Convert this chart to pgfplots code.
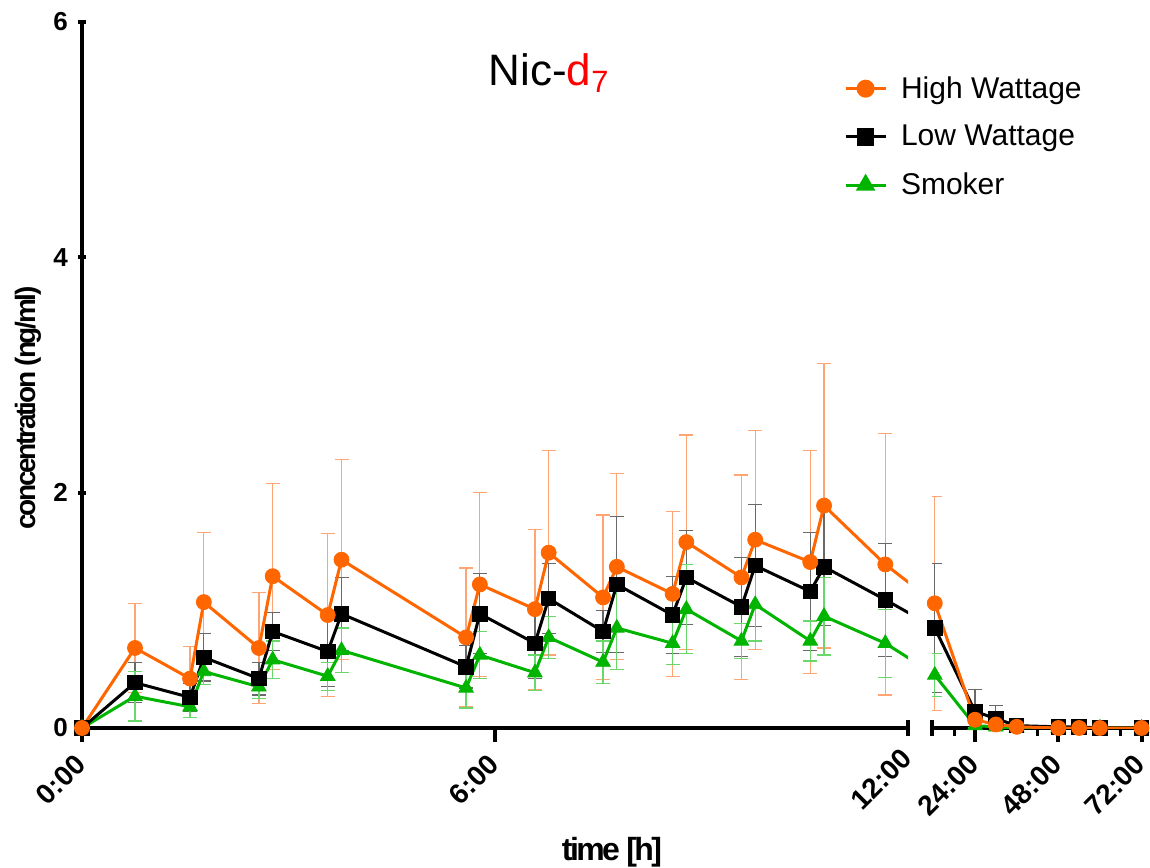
\documentclass[border=0pt]{standalone}
\usepackage{fontspec}
\setmainfont{Liberation Sans}
\newfontfamily\condbold[LetterSpace=-8]{Liberation Sans Bold}
\usepackage{pgfplots}
\usepackage{pgfplotstable}
\pgfplotsset{compat=1.18}
\definecolor{hwc}{RGB}{255,102,0}
\definecolor{hwe}{RGB}{255,165,115}
\definecolor{lwc}{RGB}{0,0,0}
\definecolor{lwe}{RGB}{105,105,105}
\definecolor{smc}{RGB}{0,180,0}
\definecolor{sme}{RGB}{105,215,105}

\pgfplotstableread{
t hw hwe lw lwe sm sme
0 0 0 0 0 0 0
0.77 0.68 0.38 0.385 0.17 0.27 0.21
1.57 0.42 0.27 0.26 0.12 0.18 0.09
1.77 1.07 0.59 0.60 0.20 0.48 0.11
2.57 0.68 0.47 0.42 0.14 0.35 0.10
2.77 1.29 0.79 0.82 0.16 0.58 0.16
3.57 0.96 0.69 0.65 0.30 0.44 0.12
3.77 1.43 0.85 0.97 0.31 0.66 0.19
5.58 0.77 0.59 0.52 0.18 0.34 0.17
5.78 1.22 0.78 0.97 0.34 0.62 0.20
6.58 1.01 0.68 0.72 0.30 0.47 0.15
6.78 1.49 0.87 1.10 0.30 0.77 0.18
7.57 1.11 0.70 0.82 0.18 0.56 0.18
7.77 1.37 0.79 1.22 0.58 0.85 0.35
8.58 1.14 0.70 0.96 0.33 0.72 0.18
8.78 1.58 0.91 1.28 0.40 1.01 0.38
9.58 1.28 0.87 1.03 0.42 0.74 0.15
9.78 1.60 0.93 1.38 0.52 1.05 0.31
10.58 1.41 0.95 1.16 0.50 0.74 0.17
10.78 1.89 1.21 1.37 0.50 0.95 0.33
11.67 1.39 1.11 1.09 0.48 0.72 0.29
12.4 1.06 0.91 0.85 0.55 0.45 0.18
24 0.07 0.03 0.14 0.19 0.02 0.02
30 0.03 0.02 0.08 0.11 0.01 0.01
36 0.01 0.01 0.02 0.02 0 0
48 0 0 0.01 0.01 0 0
54 0 0 0.01 0.01 0 0
60 0 0 0 0 0 0
72 0 0 0 0 0 0
}\datatable

\pgfplotsset{
  ebar/.style={draw=none, mark=none, forget plot,
    error bars/y dir=both, error bars/y explicit,
    error bars/error bar style={draw=#1, line width=0.6pt},
    error bars/error mark options={rotate=90, draw=#1, mark size=3.5pt, line width=0.6pt}},
  sline/.style={draw=#1, line width=1.5pt, mark=none, forget plot},
  hwmark/.style={only marks, mark=*, mark size=3.75pt, color=hwc, forget plot},
  lwmark/.style={only marks, mark=square*, mark size=3.6pt, color=lwc, forget plot},
  smmark/.style={only marks, mark=triangle*, mark size=4.2pt, color=smc, forget plot},
  base/.style={
    scale only axis, height=353pt, ymin=0, ymax=6,
    clip mode=individual,
    axis x line=bottom,
    tick align=outside,
    major tick length=7pt,
    minor tick length=4pt,
    every tick/.style={black, line width=2pt},
    minor tick style={line width=1.5pt},
    tick label style={font=\fontsize{13}{15}\selectfont\bfseries},
    xticklabel style={rotate=45, anchor=east, inner sep=1pt, font=\fontsize{14}{16}\selectfont\bfseries},
    xticklabel shift=8pt,
    extra x tick style={tick align=center, major tick length=8pt},
  },
}

\begin{document}
\begin{tikzpicture}
\path[use as bounding box] (0,0) rectangle (575pt,433.5pt);
% left segment
\begin{axis}[base,
  at={(41pt,69.5pt)}, anchor=south west, width=413pt,
  xmin=0, xmax=12,
  axis y line=left,
  axis line style={-, line width=2pt},
  xtick={0,6}, xticklabels={0:00,6:00},
  extra x ticks={12}, extra x tick labels={12:00},
  ytick={0,2,4,6}, yticklabels={0,2,4,6},
  ytick style={/pgfplots/major tick length=4pt},
  legend style={at={(0.915,0.935)}, anchor=north west, draw=none, fill=none,
    font=\fontsize{15}{17}\selectfont, row sep=8pt,
    /tikz/every even column/.append style={column sep=4pt}},
  legend cell align=left,
  legend image code/.code={\draw[mark repeat=2,mark phase=2] plot coordinates {(0cm,0cm) (0.35cm,0cm) (0.7cm,0cm)};},
]
\addlegendimage{hwc, line width=1.5pt, mark=*, mark size=3.75pt}
\addlegendentry{\hspace{5pt}High Wattage}
\addlegendimage{lwc, line width=1.5pt, mark=square*, mark size=3.6pt}
\addlegendentry{\hspace{5pt}Low Wattage}
\addlegendimage{smc, line width=1.5pt, mark=triangle*, mark size=4.2pt}
\addlegendentry{\hspace{5pt}Smoker}
\addplot[restrict x to domain=-1:12, ebar=hwe] table[x=t, y=hw, y error=hwe] {\datatable};
\addplot[restrict x to domain=-1:12, ebar=lwe] table[x=t, y=lw, y error=lwe] {\datatable};
\addplot[restrict x to domain=-1:12, ebar=sme] table[x=t, y=sm, y error=sme] {\datatable};
\addplot[sline=smc] table[x=t, y=sm] {\datatable};
\addplot[sline=lwc] table[x=t, y=lw] {\datatable};
\addplot[sline=hwc] table[x=t, y=hw] {\datatable};
\addplot[smmark, restrict x to domain=-1:12] table[x=t, y=sm] {\datatable};
\addplot[lwmark, restrict x to domain=-1:12] table[x=t, y=lw] {\datatable};
\addplot[hwmark, restrict x to domain=-1:12] table[x=t, y=hw] {\datatable};
\end{axis}
% right segment
\begin{axis}[base,
  at={(466pt,69.5pt)}, anchor=south west, width=106.5pt,
  xmin=11.6, xmax=73,
  axis y line=none,
  axis line style={-, line width=2pt},
  xtick={24,48,72}, xticklabels={24:00,48:00,72:00},
  minor xtick={18,42,66},
  extra x ticks={11.6}, extra x tick labels={},
]
\addplot[restrict x to domain=12:80, ebar=hwe] table[x=t, y=hw, y error=hwe] {\datatable};
\addplot[restrict x to domain=12:80, ebar=lwe] table[x=t, y=lw, y error=lwe] {\datatable};
\addplot[restrict x to domain=12:80, ebar=sme] table[x=t, y=sm, y error=sme] {\datatable};
\addplot[sline=smc, restrict x to domain=12:80] table[x=t, y=sm] {\datatable};
\addplot[sline=lwc, restrict x to domain=12:80] table[x=t, y=lw] {\datatable};
\addplot[sline=hwc, restrict x to domain=12:80] table[x=t, y=hw] {\datatable};
\addplot[smmark, restrict x to domain=12:80] table[x=t, y=sm] {\datatable};
\addplot[lwmark, restrict x to domain=12:80] table[x=t, y=lw] {\datatable};
\addplot[hwmark, restrict x to domain=12:80] table[x=t, y=hw] {\datatable};
\end{axis}
% titles and axis labels
\node[font=\fontsize{22}{26}\selectfont] at (274.5pt,397pt) {Nic-\textcolor{red}{d\textsubscript{7}}};
\node[font=\fontsize{14}{16}\condbold, rotate=90] at (14pt,229.5pt) {concentration (ng/ml)};
\node[font=\fontsize{16}{18}\condbold] at (306pt,7.5pt) {time [h]};
\end{tikzpicture}
\end{document}
